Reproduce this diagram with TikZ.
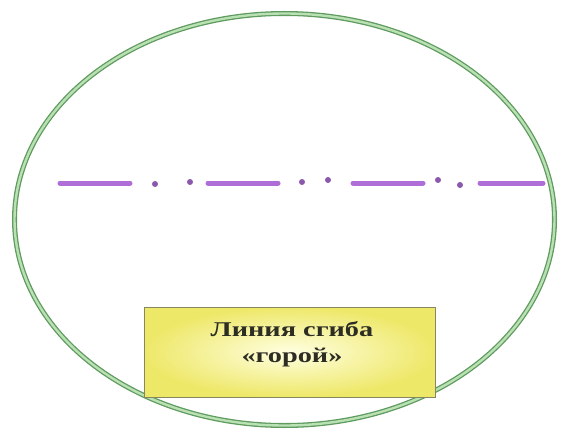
\documentclass[tikz,border=0pt]{standalone}
\usepackage{graphicx}
\usepackage{fontspec}
\setmainfont{Liberation Serif}
\definecolor{rimdark}{RGB}{95,155,95}
\definecolor{rimlight}{RGB}{185,225,180}
\definecolor{foldviolet}{RGB}{175,110,215}
\definecolor{boxedge}{RGB}{135,135,95}
\definecolor{boxouter}{RGB}{238,232,105}
\definecolor{boxinner}{RGB}{255,255,225}
\definecolor{boxtext}{RGB}{45,45,35}
\newcommand{\widetext}[1]{\scalebox{1.35}[1]{#1}}

\begin{document}
\begin{tikzpicture}[x=1pt, y=-1pt]
  \useasboundingbox (0,0) rectangle (562,433);
  \draw[rimdark, line width=1.3pt, double=rimlight, double distance=2.4pt] (284.5,219.5) ellipse (270 and 206);
  \foreach \xa/\xb in {60/130, 208/278, 353/423, 480/543}
    \draw[foldviolet, line width=5pt, line cap=round] (\xa,183) -- (\xb,183);
  \foreach \xd/\yd in {155/184, 190/182, 302/182, 328/180, 438/180, 460/185}
    \fill[foldviolet!80!black] (\xd,\yd) circle (3pt);
  \node[draw=boxedge, line width=0.8pt, shade, shading=radial, inner color=boxinner, outer color=boxouter,
        minimum width=291pt, minimum height=90pt] (foldbox) at (289.5,352) {};
  \node[align=center, text=boxtext, inner sep=0pt, font=\fontsize{21}{26}\selectfont\bfseries]
    (foldlabel) at (292,344) {\widetext{Линия сгиба}\\\widetext{«горой»}};
\end{tikzpicture}
\end{document}
